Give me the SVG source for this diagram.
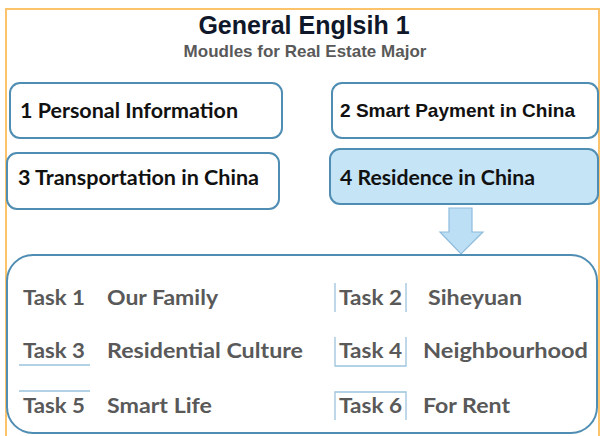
<svg xmlns="http://www.w3.org/2000/svg" width="600" height="436" viewBox="0 0 600 436">
<defs>
<style>
.frame{fill:none;stroke:#fcc36a;stroke-width:2}
.box{fill:#ffffff;stroke:#4f8db3;stroke-width:2}
.hl{fill:#c5e4f6;stroke:#4f8db3;stroke-width:2}
.lbl{font-family:Lato,"Open Sans",sans-serif;font-weight:bold;font-size:20.5px;fill:#111111}
.lbl2{font-family:"Liberation Sans",Arial,sans-serif;font-weight:bold;font-size:19px;fill:#111111}
.task{font-family:Lato,"Open Sans",sans-serif;font-weight:bold;font-size:20px;fill:#595959}
.deco{stroke:#9cc3de;stroke-width:1.3;fill:none}
</style>
</defs>
<rect class="frame" x="6" y="9" width="593" height="430"/>
<g id="title">
<text x="304" y="34" text-anchor="middle" font-family="Liberation Sans, Arial, sans-serif" font-weight="bold" font-size="25" fill="#0f172a">General Englsih 1</text>
<text x="305" y="57" text-anchor="middle" font-family="Liberation Sans, Arial, sans-serif" font-weight="bold" font-size="17" fill="#595959">Moudles for Real Estate Major</text>
</g>
<g id="m1">
<rect class="box" x="10" y="83" width="272" height="55" rx="10"/>
<text class="lbl" x="20" y="118" textLength="218" lengthAdjust="spacingAndGlyphs">1 Personal Information</text>
</g>
<g id="m2">
<rect class="box" x="332" y="83" width="266" height="55" rx="10"/>
<text class="lbl2" x="340" y="117" textLength="235" lengthAdjust="spacingAndGlyphs">2 Smart Payment in China</text>
</g>
<g id="m3">
<rect class="box" x="7" y="153" width="272" height="56" rx="10"/>
<text class="lbl" x="18" y="185" textLength="241" lengthAdjust="spacingAndGlyphs">3 Transportation in China</text>
</g>
<g id="m4">
<rect class="hl" x="330" y="149" width="268" height="55" rx="10"/>
<text class="lbl" x="340" y="185" textLength="195" lengthAdjust="spacingAndGlyphs">4 Residence in China</text>
</g>
<g id="connectors">
<polygon points="449,208 472,208 472,232 483,232 461,254 440,232 449,232" fill="#bcdff5" stroke="#8ebcdc" stroke-width="1.2"/>
</g>
<g id="tasks">
<rect class="box" x="7" y="255" width="590" height="178" rx="26"/>
<text class="task" x="23" y="305" textLength="62" lengthAdjust="spacingAndGlyphs">Task 1</text>
<text class="task" x="107" y="305" textLength="111" lengthAdjust="spacingAndGlyphs">Our Family</text>
<text class="task" x="23" y="358" textLength="62" lengthAdjust="spacingAndGlyphs">Task 3</text>
<text class="task" x="107" y="358" textLength="196" lengthAdjust="spacingAndGlyphs">Residential Culture</text>
<text class="task" x="23" y="413" textLength="62" lengthAdjust="spacingAndGlyphs">Task 5</text>
<text class="task" x="107" y="413" textLength="105" lengthAdjust="spacingAndGlyphs">Smart Life</text>
<text class="task" x="339" y="305" textLength="63" lengthAdjust="spacingAndGlyphs">Task 2</text>
<text class="task" x="428" y="305" textLength="94" lengthAdjust="spacingAndGlyphs">Siheyuan</text>
<text class="task" x="339" y="358" textLength="63" lengthAdjust="spacingAndGlyphs">Task 4</text>
<text class="task" x="423" y="358" textLength="165" lengthAdjust="spacingAndGlyphs">Neighbourhood</text>
<text class="task" x="339" y="413" textLength="63" lengthAdjust="spacingAndGlyphs">Task 6</text>
<text class="task" x="423" y="413" textLength="87" lengthAdjust="spacingAndGlyphs">For Rent</text>
<path class="deco" d="M19,365H90M19,391H90M335,283V312M406,283V312M335,337V366H406V337M335,420V392H406V420"/>
</g>
</svg>
